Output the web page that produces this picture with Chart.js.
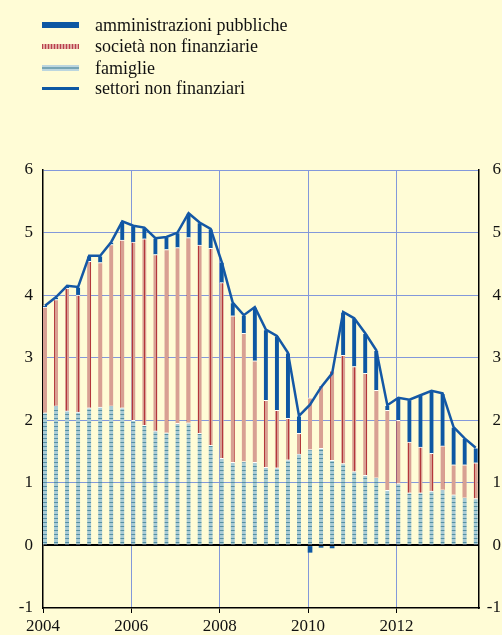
<!DOCTYPE html>
<html>
<head>
<meta charset="utf-8">
<script src="https://cdn.jsdelivr.net/npm/chart.js@4.4.1/dist/chart.umd.min.js"></script>
<style>
  html, body { margin: 0; padding: 0; background: #fffcd6; }
  #wrap { position: relative; width: 502px; height: 635px; }
  #c { position: absolute; left: 0; top: 0; }
  .row { position: absolute; left: 42px; width: 420px; height: 20px;
         font-family: "Liberation Serif", "DejaVu Serif", serif; font-size: 18px; color: #111; }
  .mk { position: absolute; left: 0; width: 37px; }
  .tx { position: absolute; left: 53px; top: 0; line-height: 20px; white-space: nowrap; }
</style>
</head>
<body>
<div id="wrap">
  <canvas id="c" width="502" height="635"></canvas>
  <div class="row" style="top:15px"><div class="mk" style="top:7px;height:6px;background:#0d57a3"></div><div class="tx">amministrazioni pubbliche</div></div>
  <div class="row" style="top:36px"><div class="mk" style="top:8px;height:5px;background:repeating-linear-gradient(90deg,#b8404a 0 1.5px,#e2aaa0 1.5px 3px)"></div><div class="tx">società non finanziarie</div></div>
  <div class="row" style="top:58px"><div class="mk" style="top:7px;height:6px;background:linear-gradient(#bcd6df 0 30%,#77a5b5 30% 70%,#bcd6df 70%)"></div><div class="tx">famiglie</div></div>
  <div class="row" style="top:78px"><div class="mk" style="top:9px;height:3px;background:#0d57a3"></div><div class="tx">settori non finanziari</div></div>
</div>
<script>
// Quarterly data, 2004 Q1 - 2013 Q4 (percent)
const quarters = [];
for (let y = 2004; y <= 2013; y++) for (let q = 1; q <= 4; q++) quarters.push(y + 'Q' + q);

const famiglie = [2.12,2.23,2.15,2.13,2.20,2.21,2.23,2.20,2.00,1.92,1.83,1.80,1.95,1.96,1.79,1.60,1.39,1.33,1.34,1.33,
                  1.25,1.24,1.37,1.46,1.53,1.55,1.36,1.31,1.18,1.12,1.08,0.88,0.99,0.84,0.84,0.87,0.89,0.81,0.76,0.75];
const societa  = [1.69,1.70,1.96,1.87,2.34,2.31,2.58,2.68,2.85,2.98,2.82,2.93,2.81,2.96,3.01,3.15,2.81,2.34,2.05,1.62,
                  1.07,0.92,0.66,0.33,0.83,1.01,1.43,1.73,1.68,1.63,1.40,1.28,1.01,0.81,0.73,0.60,0.70,0.48,0.53,0.57];
const amminPub = [0.02,0.04,0.04,0.13,0.09,0.11,0.04,0.30,0.26,0.18,0.26,0.20,0.24,0.39,0.36,0.31,0.33,0.21,0.29,0.86,
                  1.13,1.19,1.05,0.28,-0.11,-0.03,-0.04,0.69,0.77,0.64,0.64,0.08,0.36,0.68,0.83,1.00,0.84,0.60,0.42,0.24];
const settori  = [3.83,3.97,4.15,4.13,4.63,4.63,4.85,5.18,5.11,5.08,4.91,4.93,5.00,5.31,5.16,5.06,4.53,3.88,3.68,3.81,
                  3.45,3.35,3.08,2.07,2.25,2.53,2.75,3.73,3.63,3.39,3.12,2.24,2.36,2.33,2.40,2.47,2.43,1.89,1.71,1.56];
const yearTicks = [2004, 2006, 2008, 2010, 2012];

// Helpers
const qPos = s => +s.slice(0, 4) + (+s.slice(5) - 1) / 4 + 0.045;
const pts = arr => arr.map((v, i) => ({ x: qPos(quarters[i]), y: v }));

function pattern(w, h, base, mark, cells) {
  const cv = document.createElement('canvas');
  cv.width = w; cv.height = h;
  const g = cv.getContext('2d');
  g.fillStyle = base; g.fillRect(0, 0, w, h);
  g.fillStyle = mark;
  cells.forEach(([x, y, cw, ch]) => g.fillRect(x, y, cw, ch));
  return g.createPattern(cv, 'repeat');
}
const famFill = pattern(1, 4, '#a9cbd6', '#5490a3', [[0, 2, 1, 1]]);
const socFill = pattern(6, 1, '#d8a093', '#b3373b', [[0, 0, 1, 1]]);

const gridBlue = '#8398da';
const font = { family: "'Liberation Serif', 'DejaVu Serif', serif", size: 17 };
const barCommon = { type: 'bar', stack: 'a', order: 1, barThickness: 4,
                    borderColor: '#ffffff', borderWidth: { top: 1, left: 0, right: 0, bottom: 0 } };

new Chart(document.getElementById('c'), {
  data: {
    datasets: [
      { ...barCommon, label: 'famiglie', data: pts(famiglie), backgroundColor: famFill },
      { ...barCommon, label: 'società non finanziarie', data: pts(societa), backgroundColor: socFill },
      { ...barCommon, label: 'amministrazioni pubbliche', data: pts(amminPub), backgroundColor: '#0d57a3' },
      { type: 'line', label: 'settori non finanziari', stack: 'b', order: 0, data: pts(settori),
        borderColor: '#1458a5', borderWidth: 2.5, pointRadius: 0, tension: 0 }
    ]
  },
  options: {
    responsive: false, animation: false,
    layout: { padding: { top: 170, left: 0, right: 1, bottom: 0 } },
    plugins: { legend: { display: false }, tooltip: { enabled: false } },
    scales: {
      x: {
        type: 'linear', min: 2004, max: 2013.87, stacked: true, offset: false,
        afterBuildTicks: s => { s.ticks = yearTicks.map(v => ({ value: v })); },
        afterFit: s => { s.height = 27; },
        ticks: { callback: v => String(v), font, color: '#111', padding: 3, maxRotation: 0 },
        grid: { offset: false, color: c => c.tick && c.tick.value === 2004 ? 'rgba(0,0,0,0)' : gridBlue,
                tickColor: '#000', tickLength: 5, lineWidth: 1 },
        border: { color: '#000', width: 1.5 }
      },
      y: {
        position: 'left', min: -1, max: 6, stacked: true,
        afterFit: s => { s.width = 43; },
        ticks: { stepSize: 1, font, color: '#111', padding: 10 },
        grid: { drawTicks: false,
                color: c => c.tick.value === 0 ? '#000' : c.tick.value === -1 ? 'rgba(0,0,0,0)' : gridBlue,
                lineWidth: c => c.tick.value === 0 ? 2 : 1 },
        border: { color: '#000', width: 1.5 }
      },
      y2: {
        position: 'right', min: -1, max: 6,
        afterFit: s => { s.width = 22; },
        ticks: { stepSize: 1, font, color: '#111', padding: 8, crossAlign: 'far' },
        grid: { drawOnChartArea: false, drawTicks: false },
        border: { color: '#000', width: 1.5 }
      }
    }
  }
});
</script>
</body>
</html>
